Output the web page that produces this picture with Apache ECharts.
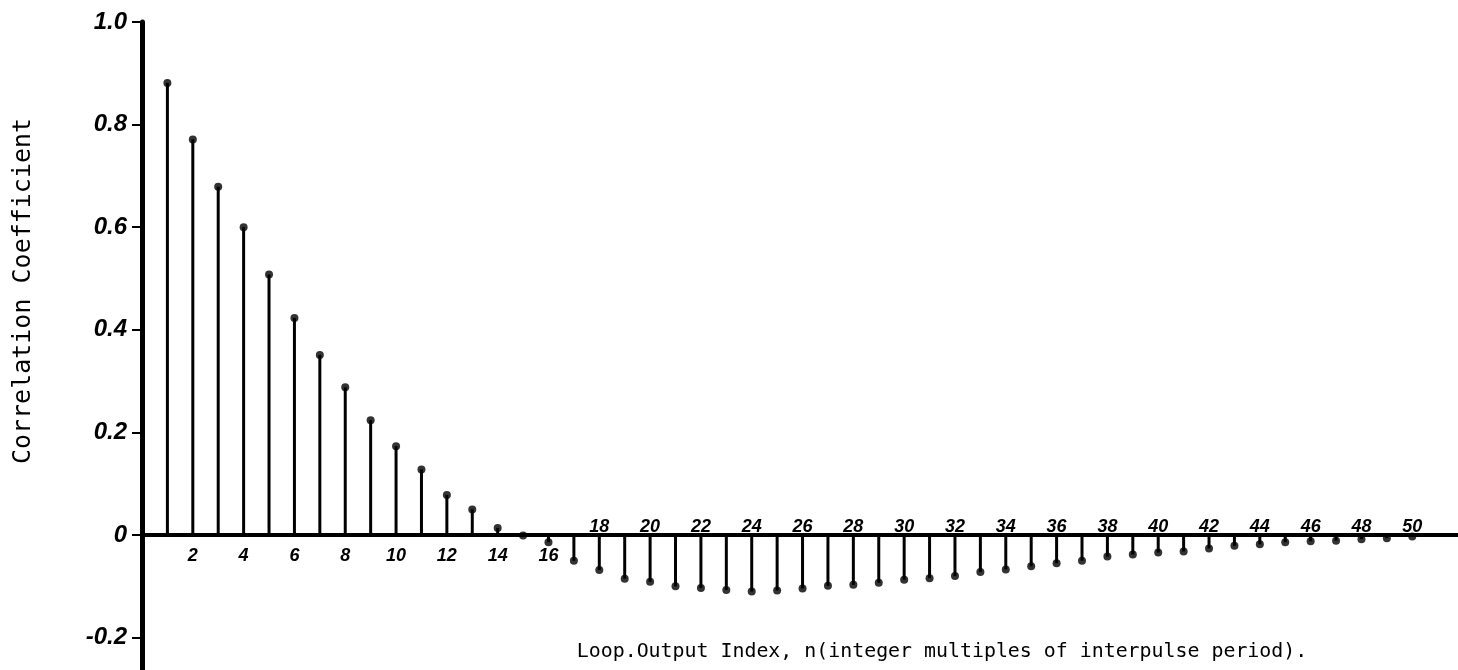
<!DOCTYPE html>
<html><head><meta charset="utf-8">
<script src="https://cdn.jsdelivr.net/npm/echarts@6/dist/echarts.min.js"></script>
<style>html,body{margin:0;padding:0;background:#fff}#c{width:1458px;height:670px}</style>
</head><body><div id="c"></div>
<script>
// Lag index n
const lags = [1,2,3,4,5,6,7,8,9,10,11,12,13,14,15,16,17,18,19,20,21,22,23,24,25,26,27,28,29,30,31,32,33,34,35,36,37,38,39,40,41,42,43,44,45,46,47,48,49,50];
// Correlation coefficient
const coefficients = [0.881,0.771,0.679,0.600,0.508,0.423,0.351,0.288,0.224,0.173,0.128,0.078,0.050,0.014,-0.001,-0.014,-0.050,-0.068,-0.085,-0.091,-0.100,-0.103,-0.107,-0.110,-0.108,-0.104,-0.099,-0.097,-0.093,-0.087,-0.084,-0.080,-0.072,-0.067,-0.061,-0.055,-0.050,-0.042,-0.038,-0.034,-0.032,-0.026,-0.021,-0.018,-0.014,-0.012,-0.011,-0.008,-0.006,-0.003];
const yTicks = [-0.2,0,0.2,0.4,0.6,0.8,1.0];
const xTicksBelow = [2,4,6,8,10,12,14,16];
const xTicksAbove = [18,20,22,24,26,28,30,32,34,36,38,40,42,44,46,48,50];
const xName = 'Loop.Output Index, n(integer multiples of interpulse period).';
const yName = 'Correlation Coefficient';

const points = lags.map((n, i) => [n, coefficients[i]]);
const handFont = {color:'#000', fontFamily:'Liberation Sans', fontWeight:'bold', fontStyle:'italic'};
const monoFont = {color:'#000', fontFamily:'DejaVu Sans Mono', fontWeight:'normal'};
const xLine = {color:'#000', width:4};
const yLine = {color:'#000', width:5};

const gridTop = 22, gridBottom = 0, chartH = 670;
const yMin = -0.263, yMax = 1.0;
// distance (px) of the zero line from the grid's bottom and top edges
const plotH = chartH - gridTop - gridBottom;
const zeroFromBottom = plotH * (0 - yMin) / (yMax - yMin);
const zeroFromTop = plotH - zeroFromBottom;

const chart = echarts.init(document.getElementById('c'), null, {renderer:'canvas'});
chart.setOption({
  animation:false,
  backgroundColor:'#fff',
  grid:{left:142, right:0, top:gridTop, bottom:gridBottom, containLabel:false, outerBoundsMode:'none'},
  xAxis:[
    {type:'value', min:0, max:51.8, position:'bottom', offset:-zeroFromBottom,
     axisLine:{show:true, onZero:false, lineStyle:xLine},
     axisTick:{show:false}, splitLine:{show:false},
     axisLabel:{customValues:xTicksBelow, margin:12, fontSize:18, ...handFont},
     name:xName, nameLocation:'middle', nameGap:107,
     nameTextStyle:{...monoFont, fontSize:19.9, padding:[0,0,0,284]}},
    {type:'value', min:0, max:51.8, position:'top', offset:-zeroFromTop,
     axisLine:{show:false, onZero:false},
     axisTick:{show:false}, splitLine:{show:false},
     axisLabel:{customValues:xTicksAbove, margin:-1, fontSize:18, ...handFont}}
  ],
  yAxis:[
    {type:'value', min:yMin, max:yMax, position:'left',
     axisLine:{show:true, onZero:false, lineStyle:yLine},
     axisTick:{show:true, customValues:yTicks, length:10, lineStyle:{color:'#000', width:2}},
     splitLine:{show:false},
     axisLabel:{customValues:yTicks, margin:15, fontSize:24, ...handFont,
       formatter: v => (Math.abs(v) < 1e-9 ? '0' : v.toFixed(1))},
     name:yName, nameLocation:'middle', nameGap:106,
     nameTextStyle:{...monoFont, fontSize:25, padding:[0,0,0,110]}}
  ],
  series:[
    {type:'bar', data:points, barWidth:3, itemStyle:{color:'#000'}, silent:true},
    {type:'scatter', data:points, symbol:'circle', symbolSize:8, itemStyle:{color:'#000'}, silent:true}
  ]
});
</script>
</body></html>
